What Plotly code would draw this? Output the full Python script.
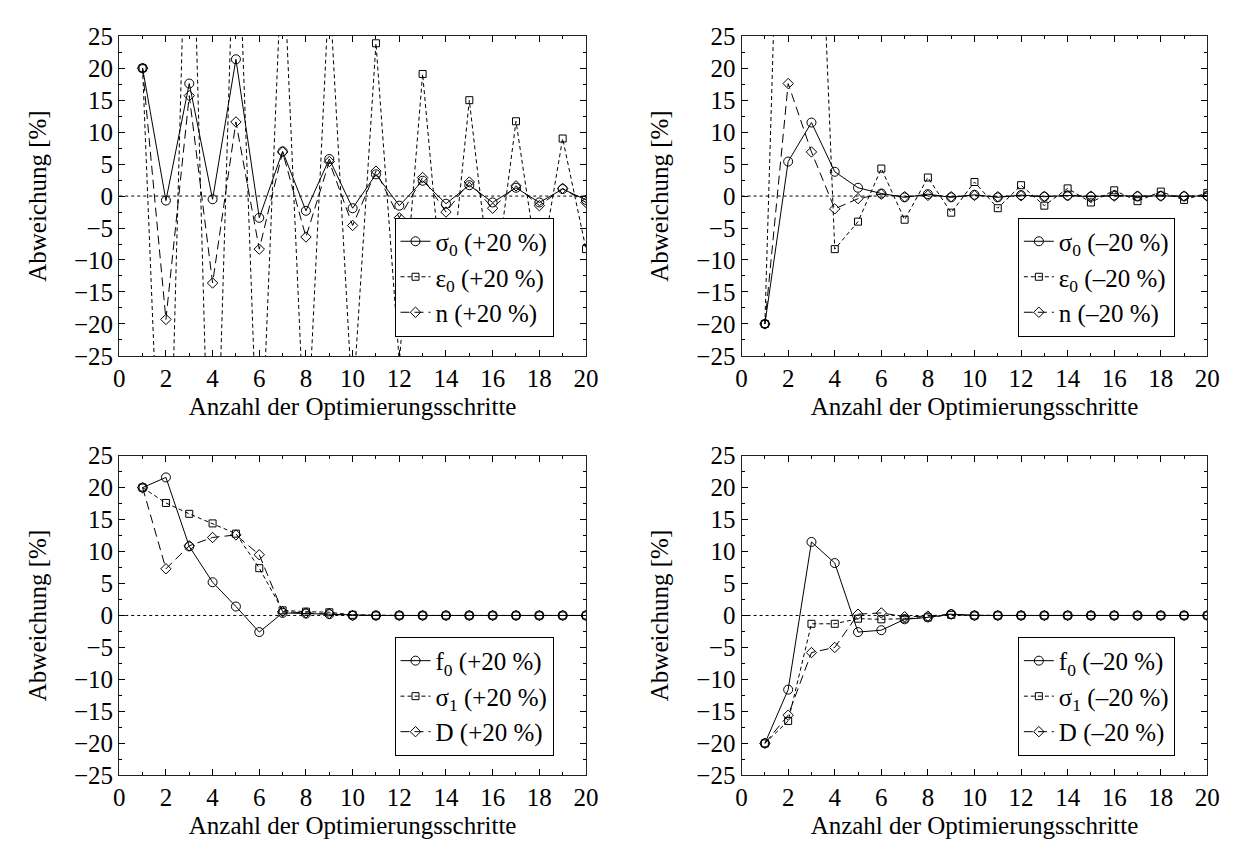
import plotly.graph_objects as go

steps = list(range(1, 21))

# top-left: +20 %
p1_sigma0 = [20, -0.7, 17.6, -0.5, 21.4, -3.4, 7.0, -2.3, 5.8, -1.9, 3.4, -1.5, 2.4, -1.2, 1.7, -1.0, 1.3, -1.0, 1.1, -0.6]
p1_eps0 = [20, -71, 66, -68, 53, -49, 40, -43, 33, -33, 23.9, -26, 19.1, -21, 15.0, -16.5, 11.7, -12.5, 9.0, -8.3]
p1_n = [20, -19.3, 15.7, -13.6, 11.6, -8.3, 6.9, -6.4, 5.4, -4.6, 3.9, -3.4, 2.9, -2.5, 2.2, -1.9, 1.6, -1.5, 1.2, -1.0]

# top-right: -20 %
p2_sigma0 = [-20, 5.4, 11.5, 3.8, 1.3, 0.4, -0.2, 0.3, -0.2, 0.2, -0.2, 0.15, -0.1, 0.1, -0.1, 0.1, -0.05, 0.05, -0.05, 0.05]
p2_eps0 = [-20, 103, 82, -8.3, -4.0, 4.3, -3.7, 2.9, -2.6, 2.2, -1.9, 1.7, -1.5, 1.2, -1.0, 0.9, -0.8, 0.7, -0.6, 0.5]
p2_n = [-20, 17.6, 6.9, -2.0, -0.4, 0.3, -0.1, 0.1, -0.1, 0.1, -0.1, 0.05, -0.05, 0.05, 0, 0, 0, 0, 0, 0]

# bottom-left: +20 %
p3_f0 = [20, 21.6, 10.8, 5.2, 1.4, -2.6, 0.4, 0.3, 0.2, 0.0, 0, 0, 0, 0, 0, 0, 0, 0, 0, 0]
p3_sigma1 = [20, 17.6, 15.9, 14.4, 12.8, 7.4, 0.8, 0.6, 0.5, 0.1, 0, 0, 0, 0, 0, 0, 0, 0, 0, 0]
p3_D = [20, 7.3, 10.9, 12.2, 12.6, 9.5, 0.6, 0.4, 0.3, 0.0, 0, 0, 0, 0, 0, 0, 0, 0, 0, 0]

# bottom-right: -20 %
p4_f0 = [-20, -11.6, 11.5, 8.2, -2.6, -2.3, -0.6, -0.3, 0.2, 0, 0, 0, 0, 0, 0, 0, 0, 0, 0, 0]
p4_sigma1 = [-20, -16.5, -1.3, -1.3, -0.5, -0.6, -0.5, -0.3, 0.1, 0, 0, 0, 0, 0, 0, 0, 0, 0, 0, 0]
p4_D = [-20, -15.6, -5.8, -5.0, 0.2, 0.4, -0.2, -0.1, 0.2, 0, 0, 0, 0, 0, 0, 0, 0, 0, 0, 0]

labels_p1 = ["σ<sub>0</sub> (+20 %)", "ε<sub>0</sub> (+20 %)", "n (+20 %)"]
labels_p2 = ["σ<sub>0</sub> (–20 %)", "ε<sub>0</sub> (–20 %)", "n (–20 %)"]
labels_p3 = ["f<sub>0</sub> (+20 %)", "σ<sub>1</sub> (+20 %)", "D (+20 %)"]
labels_p4 = ["f<sub>0</sub> (–20 %)", "σ<sub>1</sub> (–20 %)", "D (–20 %)"]

x_title = "Anzahl der Optimierungsschritte"
y_title = "Abweichung [%]"

FONT = "Liberation Serif, Times New Roman, serif"
FS = 25
W, H = 1244, 860

styles = [
    dict(symbol="circle-open", size=9, dash="solid"),
    dict(symbol="square-open", size=7, dash="4px,3px"),
    dict(symbol="diamond-open", size=8, dash="9px,5px"),
]

panels = [
    ("x", "y", "legend", [p1_sigma0, p1_eps0, p1_n], labels_p1),
    ("x2", "y2", "legend2", [p2_sigma0, p2_eps0, p2_n], labels_p2),
    ("x3", "y3", "legend3", [p3_f0, p3_sigma1, p3_D], labels_p3),
    ("x4", "y4", "legend4", [p4_f0, p4_sigma1, p4_D], labels_p4),
]

fig = go.Figure()
for xa, ya, lg, series, labels in panels:
    for vals, lab, st in zip(series, labels, styles):
        fig.add_trace(go.Scatter(
            x=steps, y=vals, name=lab, xaxis=xa, yaxis=ya, legend=lg,
            mode="lines+markers",
            line=dict(color="black", width=1, dash=st["dash"]),
            marker=dict(symbol=st["symbol"], size=st["size"], color="black",
                        line=dict(color="black", width=1)),
            cliponaxis=True,
        ))
    fig.add_shape(type="line", xref=f"{xa} domain", yref=ya, x0=0, x1=1, y0=0, y1=0,
                  line=dict(color="black", width=1, dash="dot"), layer="below")

col_x = [[115 / W, 589 / W], [747 / W, 1220 / W]]
row_y = [[1 - 354 / H, 1 - 24 / H], [1 - 787 / H, 1 - 457 / H]]

def xaxis(dom, anchor):
    return dict(domain=dom, anchor=anchor, range=[0, 20], dtick=2, tick0=0,
                ticks="inside", ticklen=6, tickcolor="black", showline=True,
                linecolor="#222", linewidth=1.3, mirror="allticks", showgrid=False,
                zeroline=False, tickfont=dict(family=FONT, size=FS, color="black"),
                title=dict(text=x_title, font=dict(family=FONT, size=FS, color="black"), standoff=6),
                minor=dict(dtick=1, ticks="inside", ticklen=3, tickcolor="black", showgrid=False))

def yaxis(dom, anchor):
    return dict(domain=dom, anchor=anchor, range=[-25, 25], dtick=5, tick0=0,
                ticks="inside", ticklen=6, tickcolor="black", showline=True,
                linecolor="#222", linewidth=1.3, mirror="allticks", showgrid=False,
                zeroline=False, tickfont=dict(family=FONT, size=FS, color="black"),
                title=dict(text=y_title, font=dict(family=FONT, size=FS, color="black"), standoff=20),
                minor=dict(dtick=2.5, ticks="inside", ticklen=3, tickcolor="black", showgrid=False))

def legend(xr, yb):
    return dict(x=xr, y=yb, xanchor="right", yanchor="bottom", xref="paper", yref="paper",
                bgcolor="white", bordercolor="black", borderwidth=1,
                font=dict(family=FONT, size=FS, color="black"), tracegroupgap=0,
                itemclick=False, itemdoubleclick=False)

fig.update_layout(
    width=W, height=H, autosize=False,
    margin=dict(l=0, r=0, t=0, b=0),
    plot_bgcolor="white", paper_bgcolor="white",
    font=dict(family=FONT, size=FS, color="black"),
    xaxis=xaxis(col_x[0], "y"), yaxis=yaxis(row_y[0], "x"),
    xaxis2=xaxis(col_x[1], "y2"), yaxis2=yaxis(row_y[0], "x2"),
    xaxis3=xaxis(col_x[0], "y3"), yaxis3=yaxis(row_y[1], "x3"),
    xaxis4=xaxis(col_x[1], "y4"), yaxis4=yaxis(row_y[1], "x4"),
    legend=legend(556 / W, 1 - 334 / H),
    legend2=legend(1187 / W, 1 - 334 / H),
    legend3=legend(556 / W, 1 - 767 / H),
    legend4=legend(1187 / W, 1 - 767 / H),
)

fig.write_html("out.html", config={"displayModeBar": False},
               post_script="document.body.style.margin='0';")
